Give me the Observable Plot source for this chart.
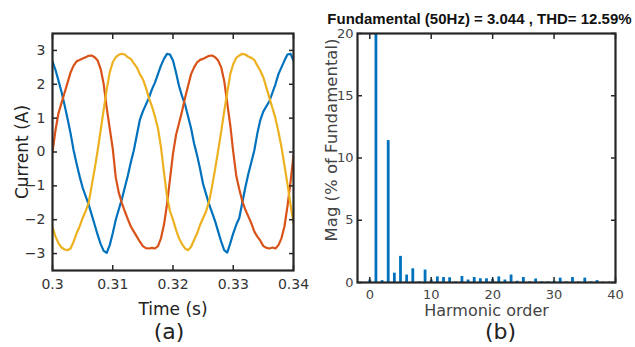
<!DOCTYPE html>
<html>
<head>
<meta charset="utf-8">
<script src="https://cdn.jsdelivr.net/npm/d3@7"></script>
<script src="https://cdn.jsdelivr.net/npm/@observablehq/plot@0.6"></script>
<style>
  html, body { margin: 0; padding: 0; background: #fff; }
  #fig { position: relative; width: 635px; height: 347px; overflow: hidden; }
  #fig svg { position: absolute; top: 0; }
</style>
</head>
<body>
<div id="fig"></div>
<script>
// ---- (a) three-phase currents, sampled every 0.5 ms ----
const time = [0.3,0.3005,0.301,0.3015,0.302,0.3025,0.303,0.3035,0.304,0.3045,
  0.305,0.3055,0.306,0.3065,0.307,0.3075,0.308,0.3085,0.309,0.3095,
  0.31,0.3105,0.311,0.3115,0.312,0.3125,0.313,0.3135,0.314,0.3145,
  0.315,0.3155,0.316,0.3165,0.317,0.3175,0.318,0.3185,0.319,0.3195,
  0.32,0.3205,0.321,0.3215,0.322,0.3225,0.323,0.3235,0.324,0.3245,
  0.325,0.3255,0.326,0.3265,0.327,0.3275,0.328,0.3285,0.329,0.3295,
  0.33,0.3305,0.331,0.3315,0.332,0.3325,0.333,0.3335,0.334,0.3345,
  0.335,0.3355,0.336,0.3365,0.337,0.3375,0.338,0.3385,0.339,0.3395,
  0.34];

const phaseA = [2.68,2.42,2.10,1.77,1.39,0.98,0.55,0.05,-0.35,-0.72,
  -1.05,-1.3,-1.55,-1.85,-2.15,-2.45,-2.72,-2.92,-2.98,-2.75,
  -2.4,-2.0,-1.7,-1.4,-1.05,-0.7,-0.3,0.05,0.5,0.95,
  1.2,1.4,1.6,1.85,2.05,2.3,2.55,2.75,2.9,2.88,
  2.7,2.35,1.95,1.65,1.4,1.05,0.7,0.25,-0.1,-0.5,
  -0.95,-1.25,-1.55,-1.8,-2.05,-2.35,-2.65,-2.9,-2.97,-2.7,
  -2.4,-2.15,-1.95,-1.5,-1.05,-0.65,-0.3,0.05,0.55,0.95,
  1.2,1.35,1.5,1.75,2.0,2.3,2.5,2.7,2.88,2.9,
  2.7];

const phaseB = [0.0,0.65,1.15,1.45,1.75,2.05,2.35,2.55,2.68,2.72,
  2.76,2.8,2.84,2.85,2.8,2.7,2.45,2.0,1.3,0.7,
  0.1,-0.75,-1.2,-1.5,-1.75,-1.98,-2.2,-2.35,-2.5,-2.65,
  -2.78,-2.84,-2.85,-2.83,-2.85,-2.78,-2.55,-2.15,-1.55,-0.8,
  -0.05,0.5,0.85,1.2,1.6,1.95,2.3,2.5,2.65,2.72,
  2.75,2.8,2.84,2.85,2.8,2.7,2.5,2.1,1.45,0.8,
  0.0,-0.7,-1.1,-1.45,-1.7,-1.9,-2.1,-2.35,-2.5,-2.62,
  -2.78,-2.83,-2.85,-2.82,-2.85,-2.75,-2.55,-2.2,-1.6,-0.9,
  -0.1];

const phaseC = [-2.22,-2.5,-2.7,-2.82,-2.88,-2.9,-2.85,-2.65,-2.4,-2.2,
  -1.95,-1.75,-1.5,-1.0,-0.5,0.05,0.65,1.25,1.85,2.35,
  2.65,2.8,2.87,2.9,2.88,2.8,2.75,2.62,2.5,2.3,
  2.15,1.9,1.6,1.35,1.05,0.7,0.15,-0.6,-1.3,-1.75,
  -2.0,-2.3,-2.55,-2.72,-2.85,-2.9,-2.8,-2.6,-2.4,-2.15,
  -1.95,-1.75,-1.45,-1.0,-0.5,0.05,0.6,1.2,1.75,2.3,
  2.6,2.78,2.85,2.9,2.88,2.82,2.78,2.72,2.55,2.4,
  2.2,1.9,1.6,1.3,1.0,0.6,0.15,-0.4,-0.95,-1.55,
  -2.1];

const phaseNames = ["ia", "ib", "ic"];
const phaseColors = ["#0072BD", "#D95319", "#EDB120"];
const timeTicks = [0.3, 0.31, 0.32, 0.33, 0.34];
const currentTicks = [-3, -2, -1, 0, 1, 2, 3];

// ---- (b) harmonic spectrum, % of fundamental ----
const order = [0,1,2,3,4,5,6,7,8,9,10,11,12,13,14,15,16,17,18,19,20,
  21,22,23,24,25,26,27,28,29,30,31,32,33,34,35,36,37,38,39,40];
const magPct = [0.2,100,0.15,11.4,0.75,2.1,0.6,1.1,0.05,1.0,0.2,
  0.45,0.4,0.38,0.05,0.48,0.2,0.4,0.3,0.3,0.25,
  0.45,0.2,0.6,0.1,0.4,0.05,0.28,0.05,0.05,0.1,
  0.35,0.05,0.4,0.05,0.35,0.05,0.15,0.03,0.03,0.03];
const orderTicks = [0, 10, 20, 30, 40];
const magTicks = [0, 5, 10, 15, 20];
const fundamentalAmp = 3.044;
const thdPct = 12.59;

const rows = [];
[phaseA, phaseB, phaseC].forEach((vals, j) => {
  vals.forEach((v, i) => rows.push({t: time[i], v, phase: phaseNames[j]}));
});
const spectrum = order.map((h, i) => ({h, mag: magPct[i]}));

const axisColor = "#262626";
const font = "DejaVu Sans";

// inward tick marks on all four sides of a boxed axes
function boxTicks(xt, yt) {
  const opts = {tickSize: -5, tickFormat: () => "", label: null, stroke: axisColor, strokeWidth: 1.5};
  return [
    Plot.axisX(xt, {anchor: "bottom", ...opts}),
    Plot.axisX(xt, {anchor: "top", ...opts}),
    Plot.axisY(yt, {anchor: "left", ...opts}),
    Plot.axisY(yt, {anchor: "right", ...opts})
  ];
}

const left = Plot.plot({
  width: 320, height: 347,
  marginLeft: 52, marginRight: 27, marginTop: 33, marginBottom: 77,
  x: {domain: [0.3, 0.34]},
  y: {domain: [-3.5, 3.5]},
  color: {domain: phaseNames, range: phaseColors},
  style: {fontFamily: font, fontSize: "14px", color: "#333", background: "transparent"},
  marks: [
    Plot.line(rows, {x: "t", y: "v", z: "phase", stroke: "phase", strokeWidth: 2.2, clip: true}),
    Plot.frame({stroke: axisColor, strokeWidth: 2.2}),
    ...boxTicks(timeTicks, currentTicks),
    Plot.axisX(timeTicks, {anchor: "bottom", tickSize: 0, tickPadding: 9, fontSize: 14,
      tickFormat: d => String(d), label: null}),
    Plot.axisY(currentTicks, {anchor: "left", tickSize: 0, tickPadding: 7, fontSize: 14, label: null}),
    Plot.text(["Time (s)"], {frameAnchor: "bottom", text: d => d, dy: 44, fontSize: 17, fill: "#222"}),
    Plot.text(["Current (A)"], {frameAnchor: "left", textAnchor: "middle", text: d => d, rotate: -90,
      dx: -30, fontSize: 17, fill: "#222"}),
    Plot.text(["(a)"], {frameAnchor: "bottom", text: d => d, dx: -4, dy: 68, fontSize: 22, fill: "#222"})
  ]
});

const right = Plot.plot({
  width: 315, height: 347,
  marginLeft: 37, marginRight: 20, marginTop: 33, marginBottom: 65,
  x: {domain: [-2, 40]},
  y: {domain: [0, 20]},
  style: {fontFamily: font, fontSize: "13px", color: "#444", background: "transparent"},
  marks: [
    Plot.ruleX(spectrum, {x: "h", y1: 0, y2: "mag", stroke: "#0072BD", strokeWidth: 2.8, clip: true}),
    Plot.frame({stroke: axisColor, strokeWidth: 2.2}),
    ...boxTicks(orderTicks, magTicks),
    Plot.axisX(orderTicks, {anchor: "bottom", tickSize: 0, tickPadding: 7, fontSize: 13, label: null}),
    Plot.axisY(magTicks, {anchor: "left", tickSize: 0, tickPadding: 4, fontSize: 13, label: null}),
    Plot.text(["Harmonic order"], {frameAnchor: "bottom", text: d => d, dy: 33, fontSize: 16, fill: "#444"}),
    Plot.text(["Mag (% of Fundamental)"], {frameAnchor: "left", textAnchor: "middle", text: d => d, rotate: -90,
      dx: -26, dy: -18, fontSize: 16.5, fill: "#444"}),
    Plot.text([`Fundamental (50Hz) = ${fundamentalAmp} , THD= ${thdPct}%`], {frameAnchor: "top", text: d => d,
      dx: -7, dy: -20, fontFamily: "Liberation Sans", fontWeight: "bold", fontSize: 15, fill: "#111"}),
    Plot.text(["(b)"], {frameAnchor: "bottom", text: d => d, dx: 14, dy: 56, fontSize: 22, fill: "#222"})
  ]
});

const fig = document.getElementById("fig");
left.style.left = "0px";
right.style.left = "320px";
fig.appendChild(left);
fig.appendChild(right);
</script>
</body>
</html>
